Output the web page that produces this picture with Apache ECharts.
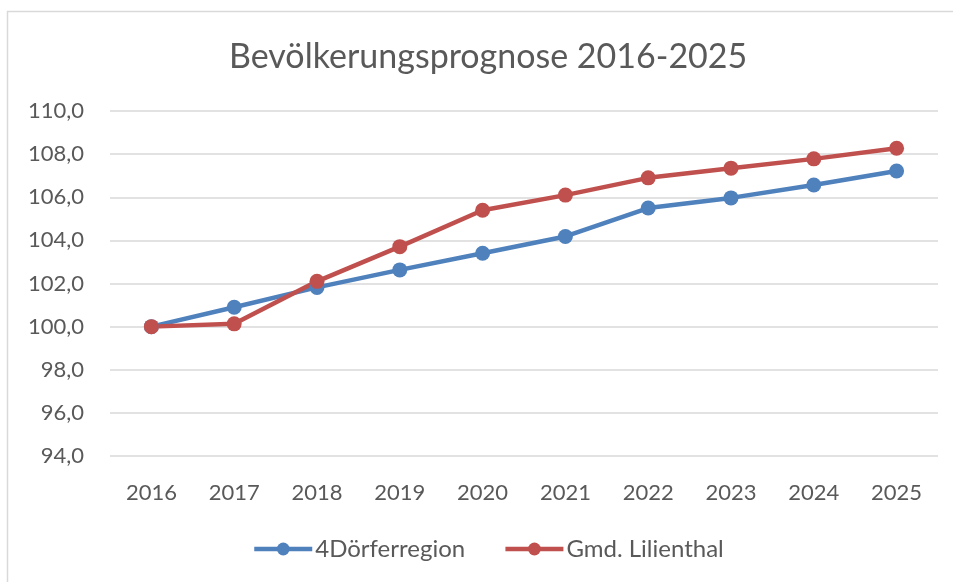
<!DOCTYPE html>
<html><head><meta charset="utf-8">
<script src="https://cdn.jsdelivr.net/npm/echarts@6/dist/echarts.min.js"></script>
<style>html,body{margin:0;padding:0;background:#fff}#c{width:953px;height:582px}</style>
</head><body><div id="c"></div>
<script>
const categories = ['2016','2017','2018','2019','2020','2021','2022','2023','2024','2025'];
const region4Doerfer = [100.0, 100.9, 101.82, 102.63, 103.4, 104.18, 105.5, 105.97, 106.57, 107.22];
const lilienthal = [100.0, 100.13, 102.1, 103.71, 105.4, 106.1, 106.9, 107.35, 107.78, 108.27];
const seriesNames = ['4Dörferregion', 'Gmd. Lilienthal'];
const titleText = 'Bevölkerungsprognose 2016-2025';

const FONT = 'Lato';
const chart = echarts.init(document.getElementById('c'));
chart.setOption({
  backgroundColor: '#fff',
  animation: false,
  graphic: [{type:'rect', shape:{x:7.5,y:11.5,width:1000,height:1000}, style:{fill:'none', stroke:'#d9d9d9', lineWidth:1.5}}],
  title: {text: titleText, left: 224, top: 35, textStyle:{fontFamily:FONT, fontSize:34, fontWeight:'normal', color:'#595959'}},
  grid: {left:110, right:15, top:111, bottom:126},
  legend: {
    top: 532, left: 247, itemWidth: 58, itemHeight: 16, itemGap: 38,
    lineStyle:{width:4.5},
    textStyle:{fontFamily:FONT, fontSize:24, color:'#595959', padding:[0,0,0,-2]},
    data: seriesNames
  },
  xAxis: {
    type:'category', data: categories, boundaryGap:true,
    axisLine:{show:false}, axisTick:{show:false},
    axisLabel:{fontFamily:FONT, fontSize:22, color:'#595959', margin:26}
  },
  yAxis: {
    type:'value', min:94, max:110, interval:2,
    axisLine:{show:false}, axisTick:{show:false},
    splitLine:{lineStyle:{color:'#d9d9d9', width:1.5}},
    axisLabel:{fontFamily:FONT, fontSize:22, color:'#595959', margin:26, formatter: v => v.toFixed(1).replace('.', ',')}
  },
  series: [
    {name: seriesNames[0], type:'line', data: region4Doerfer, symbol:'circle', symbolSize:15,
     lineStyle:{color:'#4f81bd', width:4.5}, itemStyle:{color:'#4f81bd'}},
    {name: seriesNames[1], type:'line', data: lilienthal, symbol:'circle', symbolSize:15,
     lineStyle:{color:'#c0504d', width:4.5}, itemStyle:{color:'#c0504d'}}
  ]
});
</script></body></html>
